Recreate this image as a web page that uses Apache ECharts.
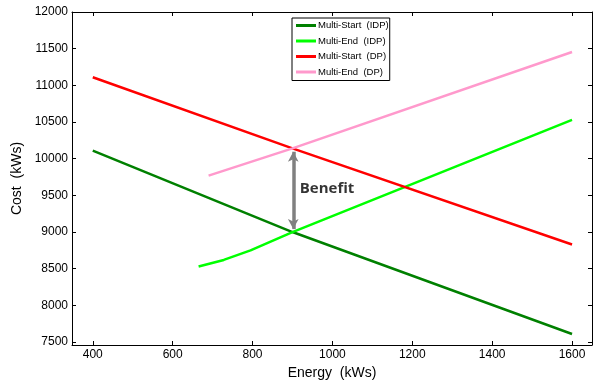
<!DOCTYPE html>
<html>
<head>
<meta charset="utf-8">
<script src="https://cdn.jsdelivr.net/npm/echarts@6/dist/echarts.min.js"></script>
<style>html,body{margin:0;padding:0;background:#fff}#c{width:593px;height:385px}</style>
</head>
<body>
<div id="c"></div>
<script>
const seriesNames = ['Multi-Start  (IDP)', 'Multi-End  (IDP)', 'Multi-Start  (DP)', 'Multi-End  (DP)'];
const energyIdpStart = [400, 900, 1600];
const costIdpStart = [10110, 9000, 7610];
const energyIdpEnd = [665, 728, 795, 900, 1600];
const costIdpEnd = [8530, 8620, 8750, 9000, 10530];
const energyDpStart = [400, 900, 1600];
const costDpStart = [11110, 10140, 8830];
const energyDpEnd = [690, 900, 1600];
const costDpEnd = [9770, 10140, 11455];
const xTicks = [400, 600, 800, 1000, 1200, 1400, 1600];
const yTicks = [7500, 8000, 8500, 9000, 9500, 10000, 10500, 11000, 11500, 12000];
const benefitEnergy = 902;
const benefitLow = 9040;
const benefitHigh = 10095;
const benefitText = 'Benefit';
const benefitTextPos = [917, 9595];

const pairs = (xs, ys) => xs.map((x, i) => [x, ys[i]]);
const colors = ['#008000', '#00ff00', '#ff0000', '#ff99cc'];
const font = "'Liberation Sans', Arial, sans-serif";
const plain = v => String(v);

const chart = echarts.init(document.getElementById('c'), null, {renderer: 'canvas'});
const axisCommon = {
  axisLine: {show: true, lineStyle: {color: '#000', width: 1}},
  splitLine: {show: false}
};
const lineSeries = (name, data, color) => ({
  name, type: 'line', data, showSymbol: false, symbol: 'none',
  lineStyle: {color, width: 2.5}, itemStyle: {color}, z: 3, silent: true
});
chart.setOption({
  animation: false,
  textStyle: {fontFamily: font},
  grid: {left: 72, right: 1, top: 12, bottom: 40, outerBoundsMode: 'none', containLabel: false},
  xAxis: [
    Object.assign({
      type: 'value', min: 348, max: 1650, position: 'bottom',
      name: 'Energy  (kWs)', nameLocation: 'middle', nameGap: 21,
      nameTextStyle: {fontSize: 14, color: '#000', fontFamily: font},
      axisTick: {show: true, inside: true, length: 4, customValues: xTicks, lineStyle: {color: '#000'}},
      axisLabel: {customValues: xTicks, formatter: plain, fontSize: 12, color: '#000', margin: 4, fontFamily: font}
    }, axisCommon),
    Object.assign({
      type: 'value', min: 348, max: 1650, position: 'top',
      axisTick: {show: true, inside: true, length: 4, customValues: xTicks, lineStyle: {color: '#000'}},
      axisLabel: {show: false}
    }, axisCommon)
  ],
  yAxis: [
    Object.assign({
      type: 'value', min: 7460, max: 12000, position: 'left',
      name: 'Cost  (kWs)', nameLocation: 'middle', nameGap: 39,
      nameTextStyle: {fontSize: 14, color: '#000', fontFamily: font},
      axisTick: {show: true, inside: true, length: 4, customValues: yTicks, lineStyle: {color: '#000'}},
      axisLabel: {customValues: yTicks, formatter: plain, fontSize: 12, color: '#000', margin: 4, fontFamily: font}
    }, axisCommon),
    Object.assign({
      type: 'value', min: 7460, max: 12000, position: 'right',
      axisTick: {show: true, inside: true, length: 4, customValues: yTicks, lineStyle: {color: '#000'}},
      axisLabel: {show: false}
    }, axisCommon)
  ],
  legend: {
    data: seriesNames, orient: 'vertical', left: 292, top: 18,
    padding: [2, 1, 3, 4], itemGap: 4.5, itemWidth: 20, itemHeight: 3, icon: 'rect',
    borderColor: '#000', borderWidth: 1, backgroundColor: '#fff',
    textStyle: {fontSize: 9.5, color: '#000', fontFamily: font, lineHeight: 11, padding: [0, 0, 0, -3]},
    selectedMode: false
  },
  series: [
    lineSeries(seriesNames[0], pairs(energyIdpStart, costIdpStart), colors[0]),
    lineSeries(seriesNames[1], pairs(energyIdpEnd, costIdpEnd), colors[1]),
    lineSeries(seriesNames[2], pairs(energyDpStart, costDpStart), colors[2]),
    lineSeries(seriesNames[3], pairs(energyDpEnd, costDpEnd), colors[3]),
    {
      name: 'benefit', type: 'line', data: [], z: 4,
      markLine: {
        silent: true, animation: false,
        symbol: ['arrow', 'arrow'], symbolSize: [8, 10],
        lineStyle: {color: '#808080', width: 3.5, type: 'solid'},
        label: {show: false},
        data: [[{coord: [benefitEnergy, benefitLow]}, {coord: [benefitEnergy, benefitHigh]}]]
      }
    },
    {
      name: 'benefitText', type: 'scatter', data: [benefitTextPos], symbolSize: 1,
      itemStyle: {color: 'rgba(0,0,0,0)'}, silent: true, z: 5,
      label: {show: true, position: 'right', distance: 0, formatter: benefitText,
        fontSize: 15, fontWeight: 'bold', color: '#000', fontFamily: "'Open Sans', 'Liberation Sans', sans-serif"}
    }
  ]
});
</script>
</body>
</html>
